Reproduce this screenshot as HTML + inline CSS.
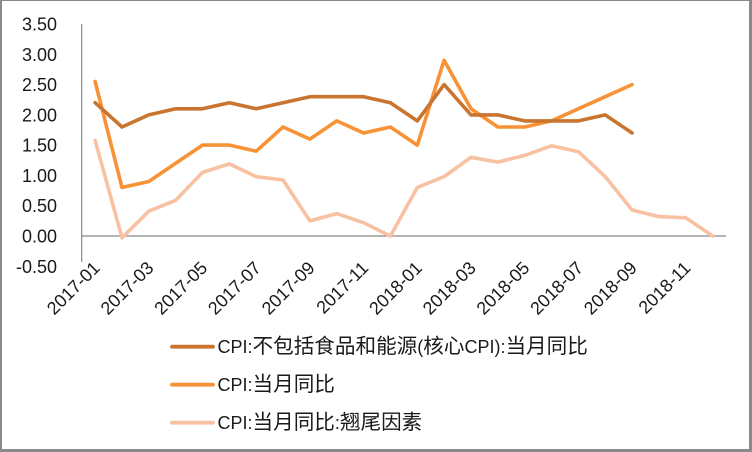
<!DOCTYPE html>
<html><head><meta charset="utf-8">
<style>
html,body{margin:0;padding:0;background:#fff;}
svg{display:block;}
text{font-family:"Liberation Sans","Noto Sans CJK SC",sans-serif;fill:#1a1a1a;}
.cjk{font-size:20.6px;}
</style></head>
<body>
<svg width="752" height="452" viewBox="0 0 752 452" xmlns="http://www.w3.org/2000/svg">
<rect x="0" y="0" width="752" height="452" fill="#fff"/>
<!-- border -->
<rect x="0" y="0" width="752" height="1" fill="#8a8a8a"/>
<rect x="0" y="0" width="2" height="452" fill="#8a8a8a"/>
<rect x="749" y="0" width="3" height="452" fill="#8a8a8a"/>
<rect x="0" y="449" width="752" height="3" fill="#8a8a8a"/>

<!-- axes -->
<line x1="81.7" y1="24" x2="81.7" y2="262" stroke="#888" stroke-width="1.2"/>
<line x1="81.7" y1="236" x2="726" y2="236" stroke="#888" stroke-width="1.2"/>

<!-- y labels -->
<g font-size="18" text-anchor="end">
<text x="57" y="30.5">3.50</text>
<text x="57" y="60.8">3.00</text>
<text x="57" y="91.1">2.50</text>
<text x="57" y="121.4">2.00</text>
<text x="57" y="151.7">1.50</text>
<text x="57" y="182">1.00</text>
<text x="57" y="212.2">0.50</text>
<text x="57" y="242.5">0.00</text>
<text x="57" y="272.8">-0.50</text>
</g>

<!-- x labels -->
<g font-size="18" text-anchor="end">
<text transform="translate(101,269) rotate(-45)">2017-01</text>
<text transform="translate(154.7,269) rotate(-45)">2017-03</text>
<text transform="translate(208.4,269) rotate(-45)">2017-05</text>
<text transform="translate(262.1,269) rotate(-45)">2017-07</text>
<text transform="translate(315.8,269) rotate(-45)">2017-09</text>
<text transform="translate(369.5,269) rotate(-45)">2017-11</text>
<text transform="translate(423.2,269) rotate(-45)">2018-01</text>
<text transform="translate(476.9,269) rotate(-45)">2018-03</text>
<text transform="translate(530.6,269) rotate(-45)">2018-05</text>
<text transform="translate(584.3,269) rotate(-45)">2018-07</text>
<text transform="translate(638,269) rotate(-45)">2018-09</text>
<text transform="translate(691.7,269) rotate(-45)">2018-11</text>
</g>

<!-- series -->
<g fill="none" stroke-width="3.6" stroke-linejoin="round" stroke-linecap="round">
<polyline stroke="#f8c1a1" points="95.1,140.3 122,237.8 148.8,211.2 175.7,200.3 202.5,172.4 229.4,163.9 256.2,176.7 283,180 309.9,220.9 336.7,213.6 363.6,222.7 390.4,236 417.3,187.5 444.1,176.6 471,157.3 497.8,162.1 524.7,155.4 551.5,145.8 578.4,151.7 605.2,176.6 632.1,210 659,216.6 685.8,217.8 712.6,236"/>
<polyline stroke="#f79336" points="95.1,81.5 122,187.5 148.8,181.5 175.7,163.3 202.5,145.1 229.4,145.1 256.2,151.2 283,127 309.9,139.1 336.7,120.9 363.6,133 390.4,127 417.3,145.1 444.1,60.3 471,108.8 497.8,127 524.7,127 551.5,120.9 578.4,108.8 605.2,96.7 632.1,84.6"/>
<polyline stroke="#c97530" points="95.1,102.7 122,127 148.8,114.9 175.7,108.8 202.5,108.8 229.4,102.7 256.2,108.8 283,102.7 309.9,96.7 336.7,96.7 363.6,96.7 390.4,102.7 417.3,120.9 444.1,84.6 471,114.9 497.8,114.9 524.7,120.9 551.5,120.9 578.4,120.9 605.2,114.9 632.1,133"/>
</g>

<!-- legend -->
<g stroke-width="3.8" stroke-linecap="round">
<line x1="172" y1="346.7" x2="213" y2="346.7" stroke="#c97530"/>
<line x1="172" y1="384.7" x2="213" y2="384.7" stroke="#f79336"/>
<line x1="172" y1="422.7" x2="213" y2="422.7" stroke="#f8c1a1"/>
</g>
<g font-size="18">
<text x="217.5" y="353.2">CPI:<tspan class="cjk">不包括食品和能源</tspan>(<tspan class="cjk">核心</tspan>CPI):<tspan class="cjk">当月同比</tspan></text>
<text x="217.5" y="391.2">CPI:<tspan class="cjk">当月同比</tspan></text>
<text x="217.5" y="429.2">CPI:<tspan class="cjk">当月同比</tspan>:<tspan class="cjk">翘尾因素</tspan></text>
</g>
</svg>
</body></html>
